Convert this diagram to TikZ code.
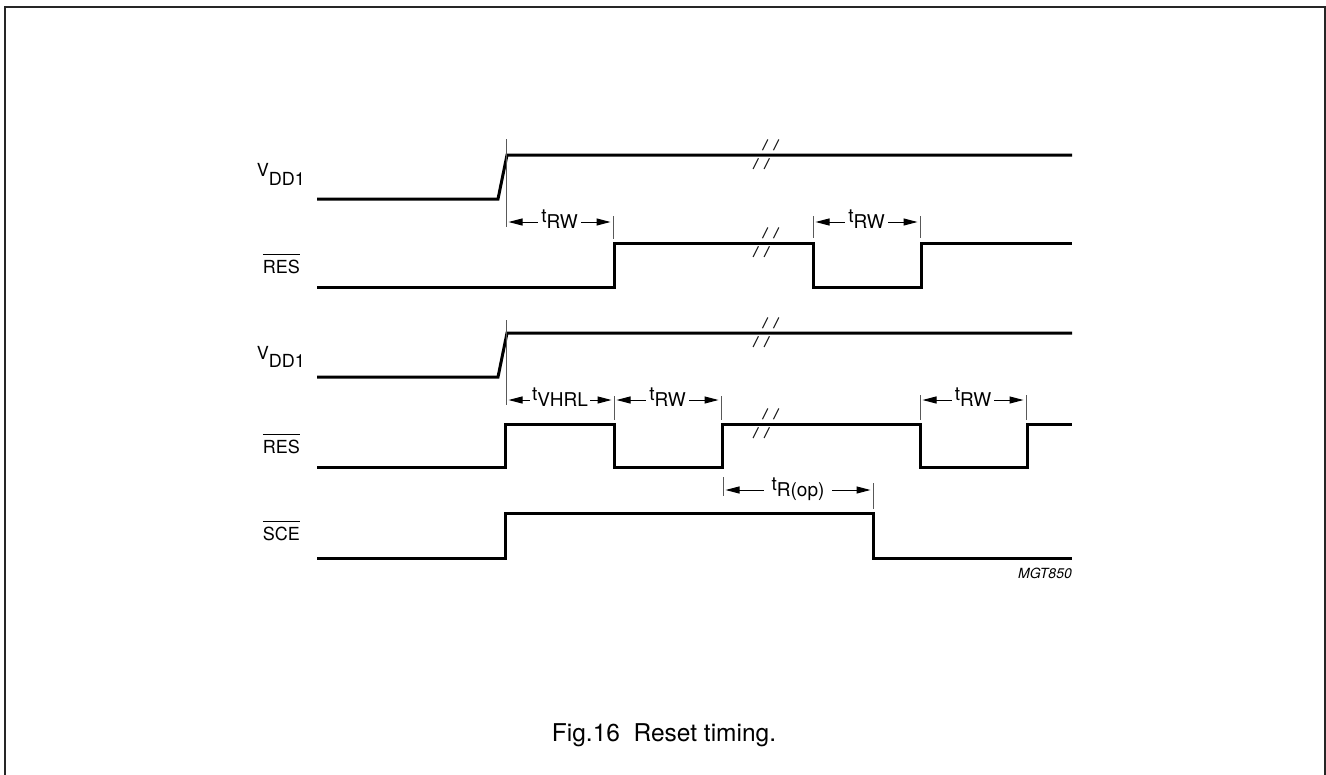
\documentclass[tikz,border=0pt]{standalone}
\usepackage{fontspec}
\setmainfont{TeX Gyre Heros}
\usetikzlibrary{arrows.meta}
\newcommand\tlab[2]{#1\raisebox{-6bp}{#2}}
\newcommand\vlab[2]{#1\raisebox{-8.5bp}{#2}}
\newcommand\ovl[1]{\vbox{\hrule height 1.2bp\kern 4.5bp\hbox{#1}}}
\begin{document}
\begin{tikzpicture}[x=1bp,y=-1bp,
  sig/.style={line width=3bp, line join=miter},
  tickln/.style={line width=0.9bp, black!65},
  dim/.style={line width=1bp, {Triangle[length=14bp,width=7bp]}-{Triangle[length=14bp,width=7bp]}, shorten <=2.5bp, shorten >=2.5bp},
  dlab/.style={fill=white, inner xsep=3bp, inner ysep=1bp, anchor=base, font=\fontsize{19bp}{21bp}\selectfont},
  lab/.style={anchor=base east, inner sep=0pt, font=\fontsize{18bp}{20bp}\selectfont},
  brk/.style={line width=1.1bp, black!85, dash pattern=on 12bp off 9bp}
]
\useasboundingbox (0,0) rectangle (1326,774);
\clip (0,0) rectangle (1326,774);
\draw[line width=2bp, black!85] (5,7) rectangle (1325,800);

% labels
\node[lab] (v1) at (305,176.5) {\vlab{V}{DD1}};
\node[lab] (r1) at (300,273) {\ovl{RES}};
\node[lab] (v2) at (305,359) {\vlab{V}{DD1}};
\node[lab] (r2) at (300,453) {\ovl{RES}};
\node[lab] (s1) at (300,540) {\ovl{SCE}};

% waveforms
\draw[sig] (317,199) -- (498,199) -- (507,155) -- (1072,155);
\draw[sig] (317,287) -- (614,287) -- (614,243) -- (813,243) -- (813,287) -- (921,287) -- (921,243) -- (1072,243);
\draw[sig] (317,377) -- (498,377) -- (507,333) -- (1072,333);
\draw[sig] (317,467) -- (505,467) -- (505,424) -- (614,424) -- (614,467) -- (722,467) -- (722,424) -- (920,424) -- (920,467) -- (1027,467) -- (1027,424) -- (1072,424);
\draw[sig] (317,558) -- (505,558) -- (505,513) -- (873,513) -- (873,558) -- (1072,558);

% break marks
\foreach \yy in {155,243,333,424} {
  \draw[brk] (753,\yy+14) -- (768.5,\yy-17);
  \draw[brk] (764,\yy+14) -- (779.5,\yy-17);
}

% ticks
\draw[tickln] (506,139) -- (506,227);
\draw[tickln] (613,216) -- (613,239);
\draw[tickln] (813,216) -- (813,238);
\draw[tickln] (920,216) -- (920,238);
\draw[tickln] (506,320) -- (506,405);
\draw[tickln] (614,396) -- (614,420);
\draw[tickln] (721,396) -- (721,420);
\draw[tickln] (920,395) -- (920,420);
\draw[tickln] (1026,395) -- (1026,420);
\draw[tickln] (723,477) -- (723,496);
\draw[tickln] (873,483) -- (873,509);

% dimension coordinates
\coordinate (a1) at (506,222);
\coordinate (a2) at (613,222);
\coordinate (b1) at (813,222);
\coordinate (b2) at (920,222);
\coordinate (c1) at (506,400);
\coordinate (c2) at (614,400);
\coordinate (c3) at (721,400);
\coordinate (d1) at (920,400);
\coordinate (d2) at (1026,400);
\coordinate (e1) at (723,490);
\coordinate (e2) at (873,490);

\draw[dim] (a1) -- (a2) node[midway, dlab] (ta) {\tlab{t}{RW}};
\draw[dim] (b1) -- (b2) node[midway, dlab] (tb) {\tlab{t}{RW}};
\draw[dim] (c1) -- (c2) node[midway, dlab, inner xsep=2bp] (tc) {\tlab{t}{VHRL}};
\draw[dim] (c2) -- (c3) node[midway, dlab] (td) {\tlab{t}{RW}};
\draw[dim] (d1) -- (d2) node[midway, dlab] (te) {\tlab{t}{RW}};
\draw[dim] (e1) -- (e2) node[midway, dlab, inner xsep=8bp] (tf) {\tlab{t}{R(op)}};

\node[anchor=base east, inner sep=0pt, font=\fontsize{14bp}{16bp}\selectfont\itshape] (mgt) at (1072,578) {MGT850};
\node[anchor=base, inner sep=0pt, font=\fontsize{24.5bp}{26bp}\selectfont] (cap) at (664,741) {Fig.16\hspace{0.556em}Reset timing.};
\end{tikzpicture}
\end{document}
